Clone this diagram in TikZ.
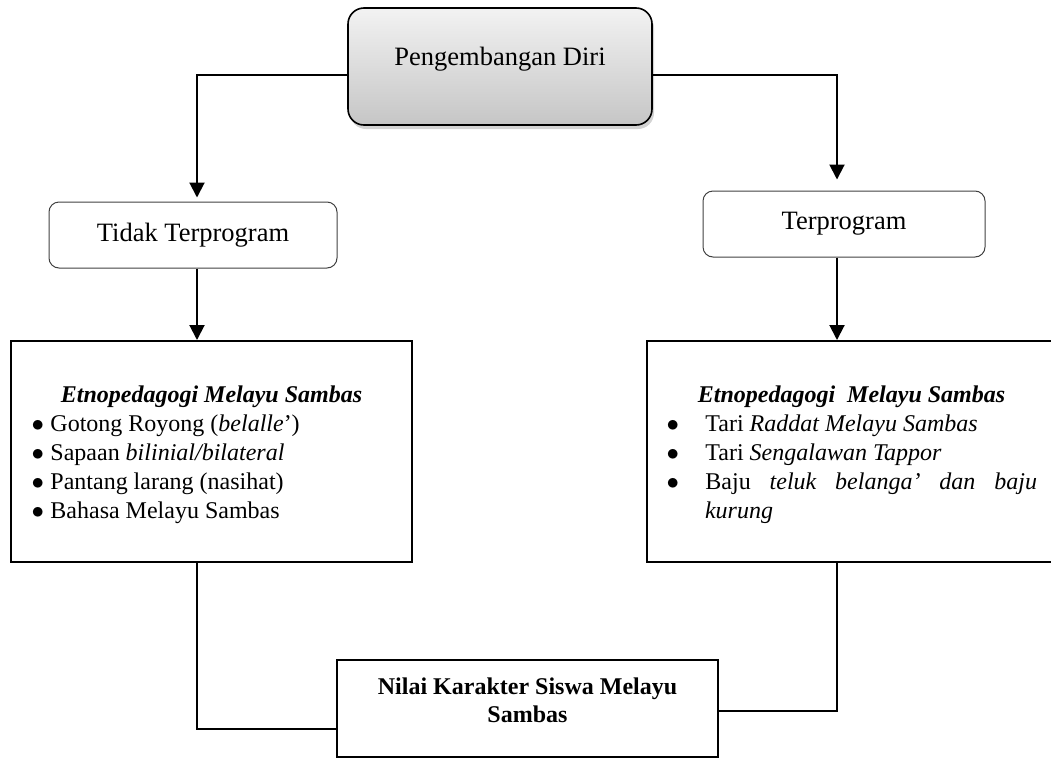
\documentclass[tikz,border=0pt]{standalone}
\usepackage{fontspec}
\setmainfont{Liberation Serif}
\usepackage{tikz}
\usetikzlibrary{%
  arrows.meta,%
  shadows%
}
\newcommand{\butir}{\ensuremath{\bullet}}

\begin{document}
\begin{tikzpicture}[x=1pt,y=-1pt,
  panah/.style={line width=2pt,-{Triangle[width=15pt,length=15pt]}},
  garis/.style={line width=2pt},
  induk/.style={draw,line width=1.6pt,rounded corners=16pt,top color=gray!10,bottom color=gray!45,
    drop shadow={opacity=0.35,shadow xshift=2pt,shadow yshift=-4pt},
    minimum width=304pt,minimum height=117pt,inner sep=0pt,font=\fontsize{26.5}{30}\selectfont},
  jenis/.style={draw=black!75,line width=1pt,rounded corners=10pt,inner sep=0pt,
    font=\fontsize{26.5}{30}\selectfont},
  kotak/.style={draw,line width=2pt,inner sep=0pt,font=\fontsize{24}{29}\selectfont}]

\useasboundingbox (0,0) rectangle (1051,758);
\clip (0,0) rectangle (1051,758);

% atas
\node[induk,text height=12pt,text depth=15pt] (top) at (500,66.5) {Pengembangan Diri};

% dua jenis
\node[jenis,minimum width=288pt,minimum height=66pt] (tidak) at (193,235) {Tidak Terprogram};
\node[jenis,minimum width=282pt,minimum height=66pt] (prog) at (844,224) {Terprogram};

% isi
\node[kotak,minimum width=401pt,minimum height=221pt] (kiri) at (211.5,451.5) {%
\parbox[c][132pt][t]{380pt}{%
  \centering\textbf{\textit{Etnopedagogi Melayu Sambas}}\par
  \raggedright
  \hspace*{10.2pt}\butir\hspace{6.3pt}Gotong Royong (\textit{belalle}')\par
  \hspace*{10.2pt}\butir\hspace{6.3pt}Sapaan \textit{bilinial/bilateral}\par
  \hspace*{10.2pt}\butir\hspace{6.3pt}Pantang larang (nasihat)\par
  \hspace*{10.2pt}\butir\hspace{6.3pt}Bahasa Melayu Sambas\par}};
\node[kotak,minimum width=418pt,minimum height=221pt] (kanan) at (856,451.5) {%
\parbox[c][132pt][t]{392pt}{%
  \centering\hspace*{-9pt}\textbf{\textit{Etnopedagogi~~Melayu Sambas}}\par
  \leftskip=0pt \rightskip=15pt \parfillskip=0pt plus 1fil
  \tolerance=9999 \hyphenpenalty=10000
  \hspace*{6.7pt}\butir\hspace{26.3pt}Tari \textit{Raddat Melayu Sambas}\par
  \hspace*{6.7pt}\butir\hspace{26.3pt}Tari \textit{Sengalawan Tappor}\par
  \hangindent=45pt \hangafter=1
  \hspace*{6.7pt}\butir\hspace{26.3pt}Baju \textit{teluk belanga' dan baju kurung}\par}};

% hasil
\node[kotak,minimum width=381pt,minimum height=97pt] (nilai) at (527.5,708.5) {%
\parbox[c][61pt][t]{360pt}{\centering\bfseries\fontsize{24}{28}\selectfont
  Nilai Karakter Siswa Melayu\\Sambas}};

\draw[panah] ([yshift=-8.5pt]top.west) -| ([xshift=4pt,yshift=4pt]tidak.north);
\draw[panah] ([yshift=-8.5pt]top.east) -| ([xshift=-7pt,yshift=11pt]prog.north);
\draw[panah] ([xshift=4pt]tidak.south) -- ([xshift=4pt]tidak.south |- kiri.north);
\draw[panah] ([xshift=-7pt]prog.south) -- ([xshift=-7pt]prog.south |- kanan.north);
\draw[garis] ([xshift=4pt]tidak.south |- kiri.south) |- ([yshift=-20.5pt]nilai.west);
\draw[garis] ([xshift=-7pt]prog.south |- kanan.south) |- ([yshift=-2.5pt]nilai.east);
\end{tikzpicture}
\end{document}
